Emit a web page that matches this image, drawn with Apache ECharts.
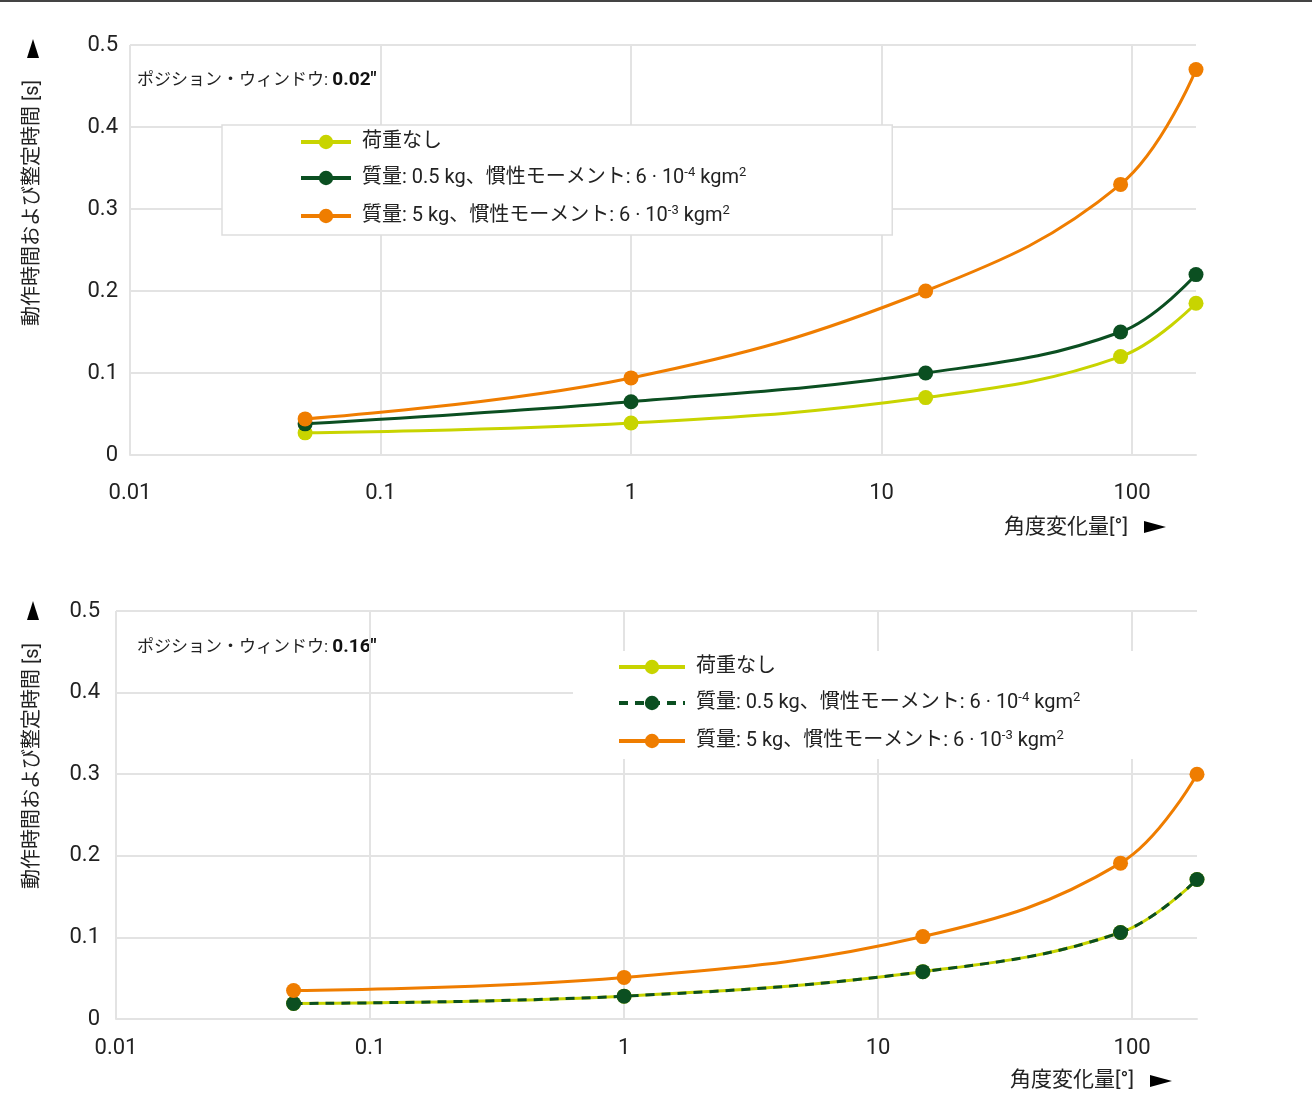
<!DOCTYPE html>
<html><head><meta charset="utf-8">
<script src="https://cdn.jsdelivr.net/npm/echarts@6/dist/echarts.min.js"></script>
<style>html,body{margin:0;padding:0;background:#fff}#c{width:1312px;height:1118px}</style>
</head><body><div id="c"></div>
<script>
var angles = [0.05, 1, 15, 90, 180];
var xTicks = ['0.01', '0.1', '1', '10', '100'];
var yTicks = ['0', '0.1', '0.2', '0.3', '0.4', '0.5'];
// Chart 1: position window 0.02"
var top_noLoad = [0.027, 0.039, 0.070, 0.120, 0.185];
var top_m05 = [0.038, 0.065, 0.100, 0.150, 0.220];
var top_m5 = [0.044, 0.094, 0.200, 0.330, 0.470];
// Chart 2: position window 0.16"
var bot_noLoad = [0.019, 0.028, 0.058, 0.106, 0.171];
var bot_m05 = [0.019, 0.028, 0.058, 0.106, 0.171];
var bot_m5 = [0.035, 0.051, 0.101, 0.191, 0.300];

var names = ['荷重なし', '質量: 0.5 kg、慣性モーメント: 6 · 10-4 kgm2', '質量: 5 kg、慣性モーメント: 6 · 10-3 kgm2'];
var names2 = names.map(function(n){return n + ' ';});
var richNames = {};
function addRich(n){
  richNames[n] = n.trim() === names[0] ? '{t|荷重なし}' :
    (n.trim() === names[1] ? '{t|質量: 0.5 kg、慣性モーメント: 6 · 10}{s|-4}{t| kgm}{s|2}'
                           : '{t|質量: 5 kg、慣性モーメント: 6 · 10}{s|-3}{t| kgm}{s|2}');
}
names.forEach(addRich); names2.forEach(addRich);

var C_Y = '#c8d400', C_G = '#0b4f21', C_O = '#ef7d00';
var FONT = 'Roboto, "Noto Sans CJK JP", sans-serif';
var GRID_C = '#e3e3e3';

function pairs(v){ return angles.map(function(a,i){return [a, v[i]];}); }
function mk(name, data, color, xi, dashed, z){
  return {
    name: name, type: 'line', xAxisIndex: xi, yAxisIndex: xi,
    data: pairs(data), smooth: 0.4, symbol: 'circle', symbolSize: 15,
    z: z,
    lineStyle: {color: color, width: 3, type: dashed ? [9, 7] : 'solid'},
    itemStyle: {color: color}
  };
}
function xAxis(gi, margin){
  return {
    type: 'log', logBase: 10, gridIndex: gi, min: 0.01, max: 180,
    axisLine: {show: true, lineStyle: {color: GRID_C, width: 2}},
    axisTick: {show: false},
    axisLabel: {fontSize: 22, color: '#222', fontFamily: FONT, margin: margin, showMaxLabel: false,
      formatter: function(v){ var s = String(+v.toPrecision(6)); return xTicks.indexOf(s) >= 0 ? s : ''; }},
    splitLine: {show: true, showMaxLine: false, lineStyle: {color: GRID_C, width: 2}}
  };
}
function yAxis(gi, margin){
  return {
    type: 'value', gridIndex: gi, min: 0, max: 0.5, interval: 0.1,
    axisLine: {show: false}, axisTick: {show: false},
    axisLabel: {fontSize: 22, color: '#222', fontFamily: FONT, margin: margin,
      formatter: function(v){ var s = String(+v.toFixed(2)); return yTicks.indexOf(s) >= 0 ? s : ''; }},
    splitLine: {show: true, lineStyle: {color: GRID_C, width: 2}}
  };
}
var legendRich = {
  p: {width: 6},
  t: {fontSize: 20, fontFamily: FONT, color: '#222', lineHeight: 24},
  s: {fontSize: 13, fontFamily: FONT, color: '#222', verticalAlign: 'top', lineHeight: 24, padding: [0,0,11,0]}
};
function fmt(n){ return '{p|}' + richNames[n]; }

var option = {
  animation: false,
  backgroundColor: '#fff',
  grid: [
    {left: 130, top: 45, width: 1066, height: 410},
    {left: 116, top: 611, width: 1081, height: 408}
  ],
  xAxis: [xAxis(0, 27), xAxis(1, 18)],
  yAxis: [yAxis(0, 12), yAxis(1, 16)],
  legend: [
    {data: names, orient: 'vertical', left: 222, top: 125, itemWidth: 50, itemHeight: 18, itemGap: 14,
     backgroundColor: '#fff', borderColor: '#dedede', borderWidth: 1.5, padding: [7, 146, 7, 77],
     lineStyle: {width: 4}, itemStyle: {borderWidth: 0},
     textStyle: {rich: legendRich}, formatter: fmt, selectedMode: false},
    {data: names2, orient: 'vertical', left: 573, top: 651, itemWidth: 66, itemHeight: 18, itemGap: 14,
     backgroundColor: '#fff', borderWidth: 0, padding: [6, 120, 6, 44],
     lineStyle: {width: 4}, itemStyle: {borderWidth: 0},
     textStyle: {rich: legendRich}, formatter: fmt, selectedMode: false}
  ],
  series: [
    mk(names[0], top_noLoad, C_Y, 0, false, 3),
    mk(names[1], top_m05, C_G, 0, false, 4),
    mk(names[2], top_m5, C_O, 0, false, 5),
    mk(names2[0], bot_noLoad, C_Y, 1, false, 3),
    mk(names2[1], bot_m05, C_G, 1, true, 4),
    mk(names2[2], bot_m5, C_O, 1, false, 5)
  ],
  graphic: [
    {type: 'line', shape: {x1: 0, y1: 1, x2: 1312, y2: 1}, style: {stroke: '#444', lineWidth: 2}},
    {type: 'text', left: 137, top: 71, style: {text: '{a|ポジション・ウィンドウ: }{b|0.02″}',
      rich: {a: {fontSize: 17, fontFamily: FONT, fill: '#222'}, b: {fontSize: 19, fontWeight: 'bold', fontFamily: FONT, fill: '#111'}}}},
    {type: 'text', left: 137, top: 638, style: {text: '{a|ポジション・ウィンドウ: }{b|0.16″}',
      rich: {a: {fontSize: 17, fontFamily: FONT, fill: '#222'}, b: {fontSize: 19, fontWeight: 'bold', fontFamily: FONT, fill: '#111'}}}},
    {type: 'text', x: 33, y: 203, rotation: Math.PI/2, style: {text: '動作時間および整定時間 [s]', fontSize: 20, fontFamily: FONT, fill: '#222', align: 'center', verticalAlign: 'middle'}},
    {type: 'text', x: 33, y: 766, rotation: Math.PI/2, style: {text: '動作時間および整定時間 [s]', fontSize: 20, fontFamily: FONT, fill: '#222', align: 'center', verticalAlign: 'middle'}},
    {type: 'polygon', shape: {points: [[33, 39], [27, 58], [39, 58]]}, style: {fill: '#000'}},
    {type: 'polygon', shape: {points: [[33, 601], [27, 620], [39, 620]]}, style: {fill: '#000'}},
    {type: 'text', x: 1128, y: 528, style: {text: '角度変化量[°]', fontSize: 21, fontFamily: FONT, fill: '#222', align: 'right', verticalAlign: 'middle'}},
    {type: 'text', x: 1134, y: 1081, style: {text: '角度変化量[°]', fontSize: 21, fontFamily: FONT, fill: '#222', align: 'right', verticalAlign: 'middle'}},
    {type: 'polygon', shape: {points: [[1144, 521], [1144, 533], [1166, 527]]}, style: {fill: '#000'}},
    {type: 'polygon', shape: {points: [[1150, 1075], [1150, 1087], [1172, 1081]]}, style: {fill: '#000'}}
  ]
};
var chart = echarts.init(document.getElementById('c'));
chart.setOption(option);
</script></body></html>
